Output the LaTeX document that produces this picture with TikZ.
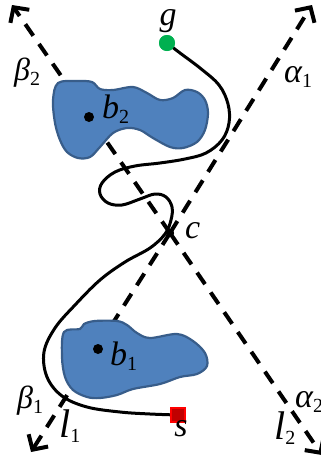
\documentclass[tikz,border=0pt]{standalone}
\usepackage{fontspec}
\setmainfont{Liberation Serif}
\usetikzlibrary{arrows.meta}
\definecolor{blobfill}{RGB}{79,129,189}
\definecolor{blobedge}{RGB}{56,93,138}
\definecolor{goalgreen}{RGB}{0,176,80}
\definecolor{startred}{RGB}{192,0,0}
\newcommand\mylbl[3][34]{{\fontsize{#1}{#1}\selectfont\itshape #2}\raisebox{-5pt}{\fontsize{20}{22}\selectfont #3}}
\begin{document}
\begin{tikzpicture}[x=1pt,y=-1pt,
  axisline/.style={line width=4pt, dash pattern=on 14pt off 10pt,
    -{Straight Barb[length=11pt,width=23pt,line width=4pt]}},
  blob/.style={fill=blobfill, draw=blobedge, line width=2.2pt},
  pathline/.style={line width=3pt, line cap=round, line join=round},
  pt/.style={circle, fill=black, inner sep=0pt, minimum size=#1},
  lab/.style={inner sep=0pt, anchor=base west}
]
\useasboundingbox (0,0) rectangle (321,456);
% lines
\coordinate (a1) at (312,5);
\coordinate (b1end) at (31,452);
\coordinate (b2end) at (12,5);
\coordinate (a2) at (322,455);
\node[pt=8pt] (c) at (170,233) {};
\draw[axisline] (c.center) -- (a1);
\draw[axisline] (c.center) -- (b1end);
\draw[axisline] (c.center) -- (b2end);
\draw[axisline] (c.center) -- (a2);
% blobs
\draw[blob] plot[smooth cycle, tension=0.55] coordinates {
  (58,83) (77,81) (92,82) (100,89) (113,90) (133,87) (147,93) (160,100)
  (173,98) (185,90) (197,92) (205,100) (208,113) (205,130) (197,142)
  (183,148) (170,147) (153,138) (140,130) (127,128) (113,133) (100,147)
  (90,157) (78,158) (67,152) (60,140) (55,123) (53,100)};
\draw[blob] plot[smooth cycle, tension=0.55] coordinates {
  (64,332) (80,329) (84,324) (95,321) (117,321) (127,325) (137,333)
  (150,338) (177,334) (193,341) (205,353) (207,366) (197,374) (180,377)
  (160,384) (133,389) (117,395) (100,398) (87,397) (73,390) (65,377)
  (62,357)};
% nodes
\node[circle, fill=goalgreen, inner sep=0pt, minimum size=16pt] (g) at (167,43) {};
\node[rectangle, fill=startred, draw=red, line width=2pt, inner sep=0pt, minimum size=14pt] (s) at (178,415) {};
% path
\draw[pathline] plot[smooth, tension=0.6] coordinates {
  (g.center) (180,53) (200,68) (219,85) (228,104) (229,123) (222,140)
  (206,153) (185,159) (160,163) (135,166) (115,172) (102,183) (100,194)
  (108,203) (122,205) (140,199) (155,194) (166,197) (172,207) (171,220)
  (165,234) (150,248) (125,262) (100,280) (75,305) (55,328) (44,352)
  (47,377) (62,396) (87,407) (120,412) (150,414) (s.center)};
\node[circle, fill=goalgreen, inner sep=0pt, minimum size=16pt] at (g) {};
\node[rectangle, fill=startred, draw=red, line width=2pt, inner sep=0pt, minimum size=14pt] at (s) {};
\node[pt=8pt] at (c) {};
\node[pt=10pt] (db2) at (89,117) {};
\node[pt=10pt] (db1) at (98,349) {};
% labels
\node[inner sep=0pt, anchor=base] (lg) at (168,25) {\fontsize{34}{34}\selectfont\itshape g};
\node[lab] (lb2) at (14,80) {\mylbl[32]{β}{2}};
\node[lab] (la1) at (284,82) {\mylbl[34]{α}{1}};
\node[lab] (lbb2) at (102,118) {\mylbl{b}{2}};
\node[lab] (lc) at (185,238) {\mylbl{c}{}};
\node[lab] (lbb1) at (110,365) {\mylbl{b}{1}};
\node[lab] (lbe1) at (17,408) {\mylbl[32]{β}{1}};
\node[lab] (ll1) at (59,437) {\mylbl[40]{l}{1}};
\node[inner sep=0pt, anchor=base] (ls) at (181,436) {\fontsize{34}{34}\selectfont\itshape s};
\node[lab] (ll2) at (274,439) {\mylbl[40]{l}{2}};
\node[lab] (la2) at (295,407) {\mylbl[34]{α}{2}};
\end{tikzpicture}
\end{document}
